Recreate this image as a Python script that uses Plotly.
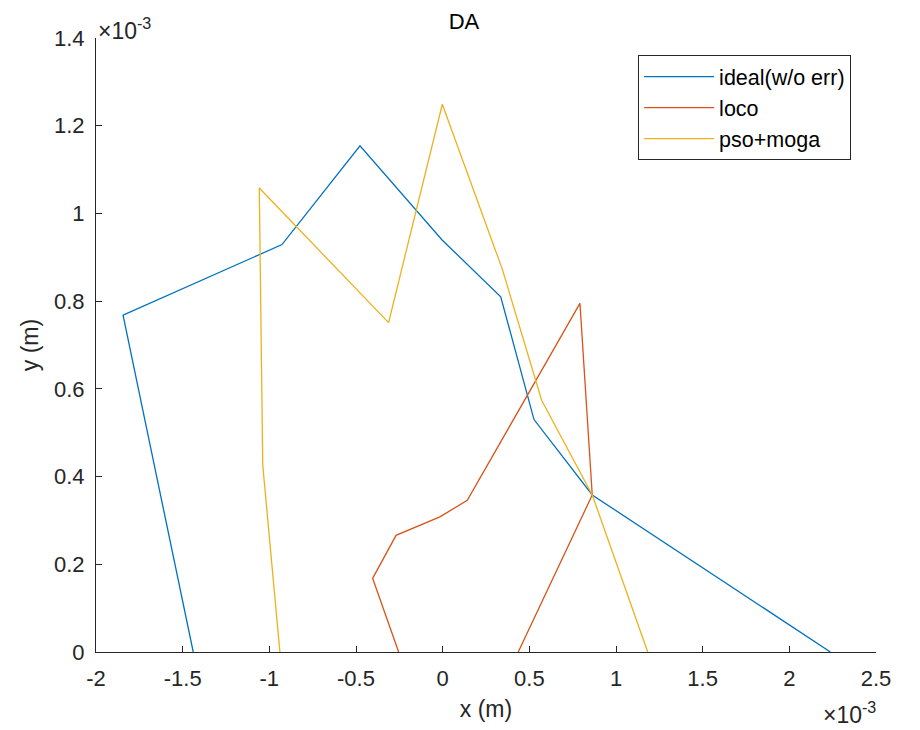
import plotly.graph_objects as go

SCALE = 1e-3  # values below are in units of 1e-3 m

ideal_x = [-1.439, -1.844, -0.927, -0.477, -0.002, 0.335, 0.527, 0.863, 2.237]
ideal_y = [0.0, 0.768, 0.929, 1.154, 0.939, 0.810, 0.530, 0.358, 0.0]

loco_x = [-0.254, -0.404, -0.269, -0.016, 0.142, 0.792, 0.863, 0.436]
loco_y = [0.0, 0.168, 0.266, 0.308, 0.346, 0.795, 0.358, 0.0]

pso_x = [-0.939, -1.038, -1.058, -0.312, -0.002, 0.344, 0.571, 0.863, 1.183]
pso_y = [0.0, 0.426, 1.058, 0.751, 1.249, 0.873, 0.574, 0.358, 0.0]

x_ticks = [-2, -1.5, -1, -0.5, 0, 0.5, 1, 1.5, 2, 2.5]
x_tick_labels = ["-2", "-1.5", "-1", "-0.5", "0", "0.5", "1", "1.5", "2", "2.5"]
y_ticks = [0, 0.2, 0.4, 0.6, 0.8, 1, 1.2, 1.4]
y_tick_labels = ["0", "0.2", "0.4", "0.6", "0.8", "1", "1.2", "1.4"]

series = [
    ("ideal(w/o err)", ideal_x, ideal_y, "#0072BD"),
    ("loco", loco_x, loco_y, "#D95319"),
    ("pso+moga", pso_x, pso_y, "#EDB120"),
]

FONT = "Liberation Sans, Arial, sans-serif"
AX = "#262626"

fig = go.Figure()
for name, xs, ys, col in series:
    fig.add_trace(go.Scatter(
        x=[v * SCALE for v in xs], y=[v * SCALE for v in ys],
        mode="lines", name=name, line=dict(color=col, width=1.3),
    ))

W, H = 912, 722
fig.update_layout(
    width=W, height=H,
    margin=dict(l=88, r=44, t=30, b=78),
    paper_bgcolor="white", plot_bgcolor="white",
    font=dict(family=FONT, size=22, color=AX),
    title=dict(text="DA", x=0.5, xanchor="center", y=1 - 13 / H, yanchor="middle",
               font=dict(size=22, color="#000000")),
    showlegend=True,
    legend=dict(x=0.695, y=0.972, xanchor="left", yanchor="top",
                bgcolor="white", bordercolor=AX, borderwidth=1, itemwidth=70,
                font=dict(size=21.5, color="#000000"), tracegroupgap=0),
)

fig.update_xaxes(
    range=[-2 * SCALE, 2.5 * SCALE],
    tickvals=[v * SCALE for v in x_ticks], ticktext=x_tick_labels,
    ticks="inside", ticklen=6, tickcolor=AX, tickwidth=1, ticklabelstandoff=7,
    showline=True, linecolor=AX, linewidth=1, mirror=False,
    showgrid=False, zeroline=False,
    title=dict(text="x (m)", font=dict(size=23, color=AX), standoff=10),
    tickfont=dict(size=22, color=AX),
)
fig.update_yaxes(
    range=[0, 1.4 * SCALE],
    tickvals=[v * SCALE for v in y_ticks], ticktext=y_tick_labels,
    ticks="inside", ticklen=6, tickcolor=AX, tickwidth=1, ticklabelstandoff=6,
    showline=True, linecolor=AX, linewidth=1, mirror=False,
    showgrid=False, zeroline=False,
    title=dict(text="y (m)", font=dict(size=23, color=AX), standoff=8),
    tickfont=dict(size=22, color=AX),
)

fig.add_annotation(text="×10<sup>-3</sup>", xref="paper", yref="paper",
                   x=0, y=1, xanchor="left", yanchor="bottom", showarrow=False,
                   font=dict(size=23, color=AX), yshift=-8)
fig.add_annotation(text="×10<sup>-3</sup>", xref="paper", yref="paper",
                   x=1, y=0, xanchor="right", yanchor="top", showarrow=False,
                   font=dict(size=23, color=AX), yshift=-44, xshift=2)

fig.write_html("out.html")
